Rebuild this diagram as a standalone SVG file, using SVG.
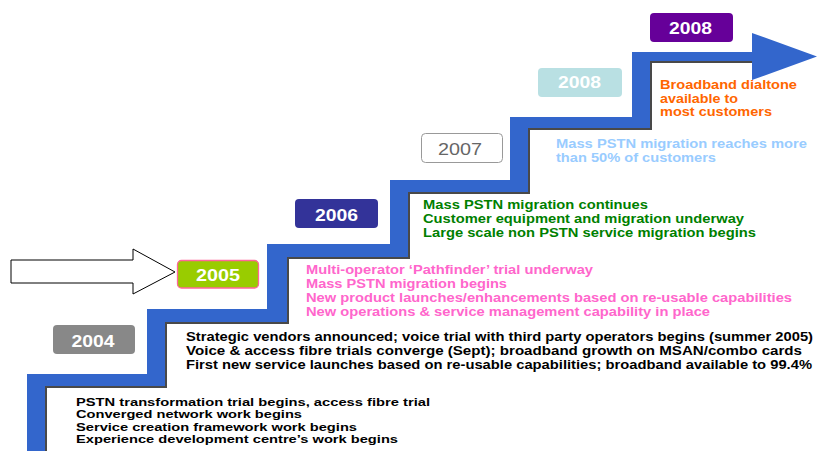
<svg xmlns="http://www.w3.org/2000/svg" width="817" height="451" viewBox="0 0 817 451">
  <defs>
    <filter id="soft" x="-5%" y="-5%" width="110%" height="110%">
      <feGaussianBlur stdDeviation="0.6"/>
    </filter>
    <style>
      text { font-family: "Liberation Sans", Arial, sans-serif; font-weight: bold; }
      .yr { font-size: 16px; fill: #ffffff; text-anchor: middle; }
      .ln { font-size: 12.5px; }
      .sm { font-size: 11.4px; }
      .blk { fill: #000000; }
      .pink { fill: #ff66cc; }
      .grn { fill: #008000; }
      .sky { fill: #99ccff; }
      .org { fill: #ff6600; }
    </style>
  </defs>
  <rect width="817" height="451" fill="#ffffff"/>

  <!-- staircase timeline arrow and pointer arrow -->
  <g id="connectors">
    <!-- drop shadow of the stairs -->
    <polygon filter="url(#soft)" fill="#4a4a4a" transform="translate(2,2)"
      points="27,451 27,374 147,374 147,309 267,309 267,244 390,244 390,180 510,180 510,117 632,117 632,52 752,52 752,61 650,61 650,128 528,128 528,192 408,192 408,257 287,257 287,322 165,322 165,386 45,386 45,451"/>
    <polygon fill="#3366cc"
      points="27,451 27,374 147,374 147,309 267,309 267,244 390,244 390,180 510,180 510,117 632,117 632,52 752,52 752,33 817,56.5 752,80 752,61 650,61 650,128 528,128 528,192 408,192 408,257 287,257 287,322 165,322 165,386 45,386 45,451"/>
    <!-- hollow pointer arrow -->
    <polygon fill="#ffffff" stroke="#000000" stroke-width="1"
      points="11,260 133,260 133,249 175,272 133,294 133,283 11,283"/>
  </g>

  <g id="y2004">
    <rect x="53" y="325" width="82" height="29" rx="4" fill="#888888"/>
    <text class="yr" x="93" y="346.5" textLength="43" lengthAdjust="spacingAndGlyphs">2004</text>
  </g>
  <g id="y2005">
    <rect x="177.5" y="260.5" width="81" height="27.5" rx="4" fill="#99cc00" stroke="#ff6699" stroke-width="1.3"/>
    <text class="yr" x="218" y="281" textLength="44" lengthAdjust="spacingAndGlyphs">2005</text>
  </g>
  <g id="y2006">
    <rect x="295" y="199" width="83" height="29" rx="4" fill="#333399"/>
    <text class="yr" x="336.5" y="220.5" textLength="43" lengthAdjust="spacingAndGlyphs">2006</text>
  </g>
  <g id="y2007">
    <rect x="421.5" y="133.5" width="81" height="29" rx="4" fill="#ffffff" stroke="#999999" stroke-width="1"/>
    <text class="yr" x="460" y="155" style="fill:#666666;font-weight:normal" textLength="44" lengthAdjust="spacingAndGlyphs">2007</text>
  </g>
  <g id="y2008a">
    <rect x="538" y="68" width="84" height="29" rx="4" fill="#b9e0e3"/>
    <text class="yr" x="579.5" y="88" textLength="43" lengthAdjust="spacingAndGlyphs">2008</text>
  </g>
  <g id="y2008b">
    <rect x="650" y="13" width="83" height="29" rx="4" fill="#660099"/>
    <text class="yr" x="690.5" y="34" textLength="43" lengthAdjust="spacingAndGlyphs">2008</text>
  </g>

  <g id="notes2004" class="sm blk">
    <text x="76" y="406" textLength="354" lengthAdjust="spacingAndGlyphs">PSTN transformation trial begins, access fibre trial</text>
    <text x="76" y="418.3" textLength="226" lengthAdjust="spacingAndGlyphs">Converged network work begins</text>
    <text x="76" y="430.6" textLength="281" lengthAdjust="spacingAndGlyphs">Service creation framework work begins</text>
    <text x="76" y="443" textLength="322" lengthAdjust="spacingAndGlyphs">Experience development centre’s work begins</text>
  </g>
  <g id="notes2005a" class="ln blk">
    <text x="186" y="341" textLength="627" lengthAdjust="spacingAndGlyphs">Strategic vendors announced; voice trial with third party operators begins (summer 2005)</text>
    <text x="186" y="355" textLength="616" lengthAdjust="spacingAndGlyphs">Voice &amp; access fibre trials converge (Sept); broadband growth on MSAN/combo cards</text>
    <text x="186" y="369" textLength="626" lengthAdjust="spacingAndGlyphs">First new service launches based on re-usable capabilities; broadband available to 99.4%</text>
  </g>
  <g id="notes2005b" class="ln pink">
    <text x="306" y="274" textLength="287" lengthAdjust="spacingAndGlyphs">Multi-operator ‘Pathfinder’ trial underway</text>
    <text x="306" y="288" textLength="201" lengthAdjust="spacingAndGlyphs">Mass PSTN migration begins</text>
    <text x="306" y="302" textLength="486" lengthAdjust="spacingAndGlyphs">New product launches/enhancements based on re-usable capabilities</text>
    <text x="306" y="315.5" textLength="404" lengthAdjust="spacingAndGlyphs">New operations &amp; service management capability in place</text>
  </g>
  <g id="notes2006" class="ln grn">
    <text x="423" y="209" textLength="225" lengthAdjust="spacingAndGlyphs">Mass PSTN migration continues</text>
    <text x="423" y="223" textLength="321" lengthAdjust="spacingAndGlyphs">Customer equipment and migration underway</text>
    <text x="423" y="237" textLength="333" lengthAdjust="spacingAndGlyphs">Large scale non PSTN service migration begins</text>
  </g>
  <g id="notes2007" class="ln sky">
    <text x="556" y="148" textLength="251" lengthAdjust="spacingAndGlyphs">Mass PSTN migration reaches more</text>
    <text x="556" y="162" textLength="160" lengthAdjust="spacingAndGlyphs">than 50% of customers</text>
  </g>
  <g id="notes2008" class="ln org">
    <text x="660" y="89" textLength="137" lengthAdjust="spacingAndGlyphs">Broadband dialtone</text>
    <text x="660" y="103" textLength="78" lengthAdjust="spacingAndGlyphs">available to</text>
    <text x="660" y="116" textLength="112" lengthAdjust="spacingAndGlyphs">most customers</text>
  </g>
</svg>
